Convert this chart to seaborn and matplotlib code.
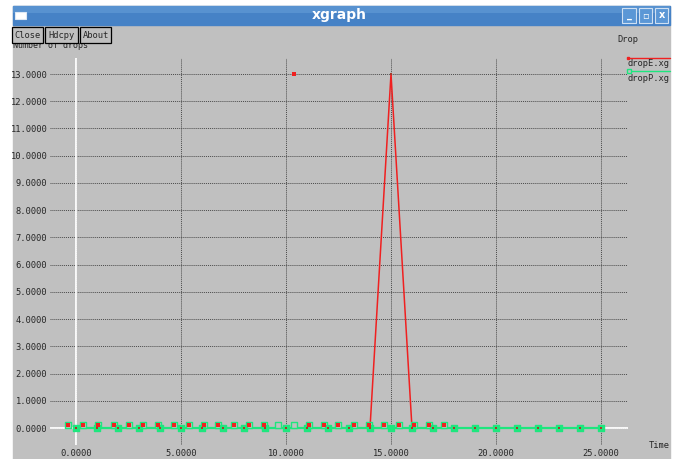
import seaborn as sns
import matplotlib.pyplot as plt
from matplotlib.patches import Rectangle
from matplotlib.lines import Line2D

tiempo = [0, 1, 2, 3, 4, 5, 6, 7, 8, 9, 10, 11, 12,
          13, 14, 15, 16, 17, 18, 19, 20, 21, 22, 23, 24, 25]
drop_e = [0, 0, 0, 0, 0, 0, 0, 0, 0, 0, 0, 0, 0,
          0, 0, 13, 0, 0, 0, 0, 0, 0, 0, 0, 0, 0]
drop_p = [0, 0, 0, 0, 0, 0, 0, 0, 0, 0, 0, 0, 0,
          0, 0, 0, 0, 0, 0, 0, 0, 0, 0, 0, 0, 0]

# fila de marcas sueltas un poco por encima de cero
marcas_x = [-0.37, 0.35, 1.05, 1.80, 2.51, 3.20, 3.92, 4.66, 5.37, 6.08,
            6.78, 7.51, 8.22, 8.94, 9.63, 10.38, 11.10, 11.80, 12.49, 13.24,
            13.95, 14.67, 15.37, 16.10, 16.81, 17.51]
marcas_y = [0.12, 0.12, 0.12, 0.12, 0.12, 0.12, 0.12, 0.12, 0.12, 0.12,
            0.12, 0.12, 0.12, 0.12, 0.12, 0.12, 0.12, 0.12, 0.12, 0.12,
            0.12, 0.12, 0.12, 0.12, 0.12, 0.12]
marcas_rojas_x = [-0.37, 0.35, 1.05, 1.80, 2.51, 3.20, 3.92, 4.66, 5.37, 6.08,
                  6.78, 7.51, 8.22, 8.94, 10.38, 11.10, 11.80, 12.49, 13.24,
                  13.95, 14.67, 15.37, 16.10, 16.81, 17.51]
marcas_rojas_y = [0.12, 0.12, 0.12, 0.12, 0.12, 0.12, 0.12, 0.12, 0.12, 0.12,
                  0.12, 0.12, 0.12, 0.12, 13.0, 0.12, 0.12, 0.12, 0.12,
                  0.12, 0.12, 0.12, 0.12, 0.12, 0.12]

ticks_x = [0, 5, 10, 15, 20, 25]
ticks_y = [0, 1, 2, 3, 4, 5, 6, 7, 8, 9, 10, 11, 12, 13]

GRIS = "#c0c0c0"
ROJO = "#f02020"
VERDE = "#1ee67e"
AZUL = "#4682c6"
MONO = "DejaVu Sans Mono"

sns.set_style("white")
plt.rcParams["font.family"] = ["DejaVu Sans"]

W, H = 676, 459
fig = plt.figure(figsize=(W / 100, H / 100), dpi=100)
fig.patch.set_facecolor("white")


def fx(x):
    return x / W


def fy(y):
    return 1 - y / H


def caja(x0, y0, x1, y1, **kw):
    r = Rectangle((fx(x0), fy(y1)), fx(x1) - fx(x0), fy(y0) - fy(y1),
                  transform=fig.transFigure, **kw)
    fig.add_artist(r)
    return r


# ventana de xgraph
caja(13, 6, 670, 459, color=GRIS, zorder=-2)
caja(13, 6, 670, 25, color=AZUL, zorder=-1)
caja(13, 6, 670, 13, color="#5892d0", zorder=-1, lw=0)
caja(15, 12, 26, 19, facecolor="white", edgecolor="#dde8f4", lw=0.8, zorder=3)
fig.text(fx(339), fy(15), "xgraph", color="white", fontsize=10,
         fontweight="bold", ha="center", va="center")
for (a, b), g in zip([(622, 636), (639, 652), (655, 668)], ["_", "\u25ab", "x"]):
    caja(a, 8, b, 23, facecolor="#5b97d6", edgecolor="#cfe0f3", lw=0.8, zorder=3)
    fig.text(fx((a + b) / 2), fy(15.5), g, color="white", fontsize=7,
             fontweight="bold", ha="center", va="center", zorder=4)

fig.text(fx(13), fy(46), "Number of drops", family=MONO, fontsize=6,
         ha="left", va="center", zorder=1)
for (a, b), t in zip([(12, 43), (45, 78), (80, 111)], ["Close", "Hdcpy", "About"]):
    caja(a, 27, b, 43, facecolor=GRIS, edgecolor="black", lw=0.9, zorder=3)
    fig.text(fx((a + b) / 2), fy(35), t, family=MONO, fontsize=6.3,
             ha="center", va="center", zorder=4)

fig.text(fx(617), fy(39), "Drop", family=MONO, fontsize=6.3, ha="left", va="center")
fig.text(fx(649), fy(446), "Time", family=MONO, fontsize=6.3, ha="left", va="center")

# leyenda
fig.add_artist(Line2D([fx(628), fx(670)], [fy(58), fy(58)], color=ROJO, lw=1,
                      transform=fig.transFigure))
fig.add_artist(Line2D([fx(628)], [fy(58)], color=ROJO, marker="s", ms=2,
                      transform=fig.transFigure))
fig.text(fx(628), fy(64), "dropE.xg", family=MONO, fontsize=6.3, ha="left", va="center")
fig.add_artist(Line2D([fx(629), fx(670)], [fy(71), fy(71)], color=VERDE, lw=1,
                      transform=fig.transFigure))
fig.add_artist(Line2D([fx(629)], [fy(71)], color=VERDE, marker="s", ms=3,
                      mfc=GRIS, mew=1, transform=fig.transFigure))
fig.text(fx(628), fy(78), "dropP.xg", family=MONO, fontsize=6.3, ha="left", va="center")

# area del grafico
ax = fig.add_axes([fx(50), fy(445), fx(628) - fx(50), fy(58) - fy(445)])
ax.set_facecolor(GRIS)
for s in ax.spines.values():
    s.set_visible(False)

ax.set_xlim(-1.238, 26.286)
ax.set_ylim(-0.624, 13.588)
ax.set_xticks(ticks_x)
ax.set_xticklabels([f"{v:.4f}" for v in ticks_x])
ax.set_yticks(ticks_y)
ax.set_yticklabels([f"{v:.4f}" for v in ticks_y])
ax.tick_params(length=0, labelsize=6.3)
ax.tick_params(axis="y", pad=2)
ax.tick_params(axis="x", pad=3)
for lab in ax.get_xticklabels() + ax.get_yticklabels():
    lab.set_family(MONO)

ax.grid(True, color="#4a4a4a", linestyle=(0, (1, 1)), linewidth=0.7)
ax.set_axisbelow(True)
ax.axhline(0, color="white", lw=1.3, zorder=0.8)
ax.axvline(0, color="white", lw=1.3, zorder=0.8)

sns.lineplot(x=tiempo, y=drop_e, color=ROJO, lw=1.1, estimator=None,
             sort=False, ax=ax, zorder=2)
sns.lineplot(x=tiempo, y=drop_p, color=VERDE, lw=1.6, estimator=None,
             sort=False, ax=ax, zorder=3)

sns.scatterplot(x=marcas_x, y=marcas_y, marker="s", s=14, color=GRIS,
                edgecolor=VERDE, linewidth=1, ax=ax, zorder=4)
sns.scatterplot(x=tiempo, y=drop_p, marker="s", s=14, color=VERDE,
                edgecolor=VERDE, linewidth=1, ax=ax, zorder=4)
sns.scatterplot(x=marcas_rojas_x, y=marcas_rojas_y, marker="s", s=5,
                color=ROJO, linewidth=0, ax=ax, zorder=5)
sns.scatterplot(x=tiempo, y=drop_e, marker="s", s=4, color="#a83a2a",
                linewidth=0, ax=ax, zorder=5)

ax.set_xlabel("")
ax.set_ylabel("")

fig.savefig("out.png", dpi=100, facecolor=fig.get_facecolor())
